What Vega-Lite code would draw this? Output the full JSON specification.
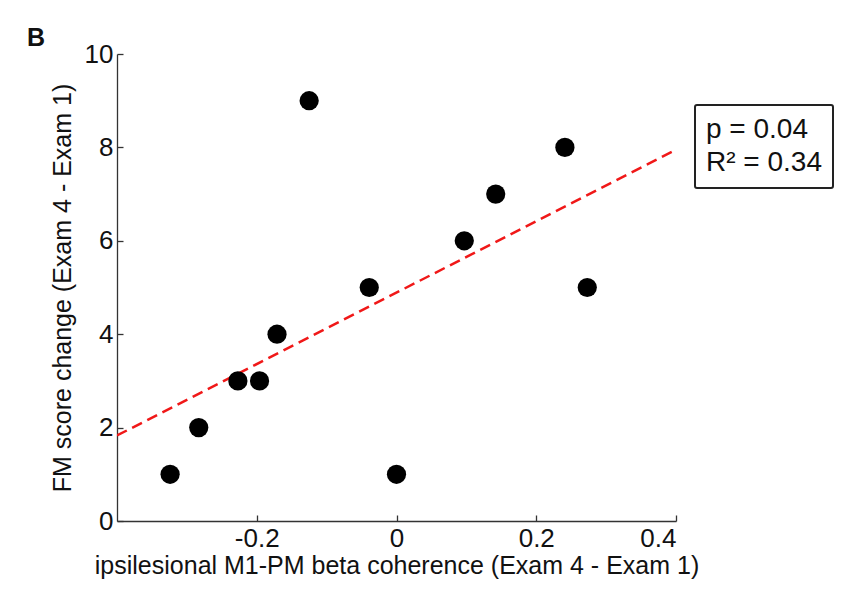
{
  "$schema": "https://vega.github.io/schema/vega-lite/v6.json",
  "width": 559,
  "height": 467,
  "autosize": "none",
  "padding": {"left": 117, "top": 54, "right": 168, "bottom": 76},
  "background": "white",
  "title": {
    "text": "B",
    "anchor": "start",
    "frame": "group",
    "font": "Liberation Sans",
    "fontSize": 25,
    "fontWeight": "bold",
    "color": "#111",
    "dx": -90,
    "dy": 10,
    "offset": 0
  },
  "datasets": {
    "points": [
      {"coh": -0.324, "fm": 1},
      {"coh": -0.283, "fm": 2},
      {"coh": -0.227, "fm": 3},
      {"coh": -0.196, "fm": 3},
      {"coh": -0.171, "fm": 4},
      {"coh": -0.125, "fm": 9},
      {"coh": -0.039, "fm": 5},
      {"coh": 0.0, "fm": 1},
      {"coh": 0.097, "fm": 6},
      {"coh": 0.142, "fm": 7},
      {"coh": 0.241, "fm": 8},
      {"coh": 0.273, "fm": 5}
    ],
    "stats": [
      {"stat": "p = 0.04"},
      {"stat": "R² = 0.34"}
    ]
  },
  "layer": [
    {
      "data": {"name": "points"},
      "transform": [{"regression": "fm", "on": "coh", "extent": [-0.4, 0.4]}],
      "mark": {"type": "line", "color": "#f01818", "strokeDash": [11, 6], "strokeWidth": 2.5, "clip": true},
      "encoding": {
        "x": {"field": "coh", "type": "quantitative"},
        "y": {"field": "fm", "type": "quantitative"}
      }
    },
    {
      "data": {"name": "points"},
      "mark": {"type": "circle", "size": 370, "color": "black", "opacity": 1},
      "encoding": {
        "x": {
          "field": "coh",
          "type": "quantitative",
          "scale": {"domain": [-0.4, 0.4], "nice": false, "zero": false},
          "axis": {
            "title": "ipsilesional M1-PM beta coherence (Exam 4 - Exam 1)",
            "values": [-0.2, 0, 0.2, 0.4],
            "labelExpr": "'' + datum.value"
          }
        },
        "y": {
          "field": "fm",
          "type": "quantitative",
          "scale": {"domain": [0, 10], "nice": false},
          "axis": {
            "title": "FM score change (Exam 4 - Exam 1)",
            "values": [0, 2, 4, 6, 8, 10],
            "titlePadding": 9
          }
        }
      }
    },
    {
      "data": {"name": "stats"},
      "mark": {"type": "point", "opacity": 0, "size": 0},
      "encoding": {
        "color": {
          "field": "stat",
          "type": "nominal",
          "sort": ["p = 0.04", "R² = 0.34"],
          "scale": {"range": ["black", "black"]},
          "legend": {
            "title": null,
            "orient": "none",
            "legendX": 578,
            "legendY": 51,
            "strokeColor": "#222",
            "padding": 11,
            "rowPadding": 5,
            "symbolSize": 0,
            "symbolOpacity": 0,
            "symbolStrokeWidth": 0,
            "labelOffset": -28,
            "labelFont": "Liberation Sans",
            "labelFontSize": 28,
            "labelColor": "#111",
            "cornerRadius": 2
          }
        }
      }
    }
  ],
  "config": {
    "view": {"stroke": null},
    "legend": {"strokeWidth": 2},
    "axis": {
      "grid": false,
      "domainColor": "#333",
      "domainWidth": 1.3,
      "tickColor": "#333",
      "tickWidth": 1.3,
      "tickSize": -6,
      "labelFont": "Liberation Sans",
      "labelFontSize": 26,
      "labelColor": "#111",
      "labelPadding": 10,
      "titleFont": "Liberation Sans",
      "titleFontSize": 25,
      "titleFontWeight": "normal",
      "titleColor": "#111",
      "titlePadding": 2
    }
  }
}
